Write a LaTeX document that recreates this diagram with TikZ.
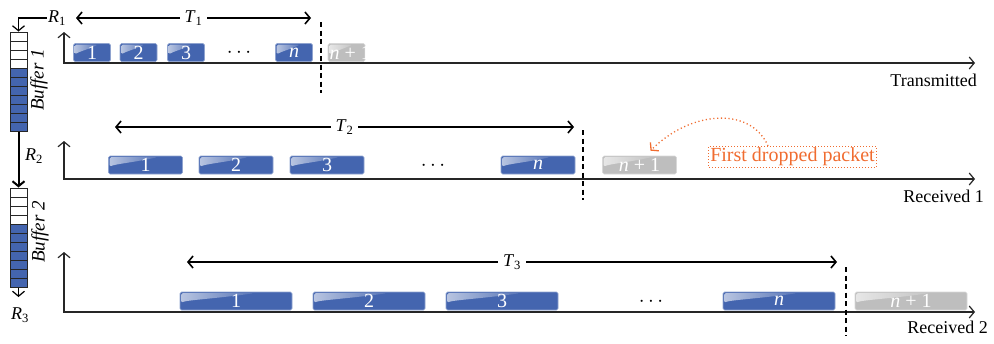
\documentclass[tikz,border=0pt]{standalone}
\usepackage{fontspec}
\setmainfont{Liberation Serif}
\usetikzlibrary{arrows.meta,calc}
\definecolor{pblue}{RGB}{68,101,175}
\definecolor{pgray}{RGB}{190,190,190}
\definecolor{dorange}{RGB}{240,108,48}
\newcommand\idx[2]{\textit{#1}\textsubscript{#2}}
\tikzset{
  chev/.tip={Straight Barb[length=5pt,width=12pt]},
  axisline/.style={line width=1.2pt, draw=black!85, {chev}-{chev}},
  tarrow/.style={line width=1.6pt, {chev}-{chev}},
  conn/.style={line width=1.2pt, -{chev}},
  cut/.style={line width=1.2pt, dash pattern=on 5pt off 3.5pt},
  pkt/.style={rectangle, rounded corners=1.5pt, fill=#1, draw=#1!60!white, line width=0.6pt,
    text=white, inner sep=0pt, minimum height=18pt, font=\fontsize{20}{22}\selectfont,
    path picture={
      \coordinate (gA) at ($(path picture bounding box.north west)+(1.2pt,-1.2pt)$);
      \coordinate (gB) at ($(path picture bounding box.north west)!0.66!(path picture bounding box.north east)+(0,-1.2pt)$);
      \coordinate (gC) at ($(path picture bounding box.north west)!0.6!(path picture bounding box.south west)+(1.2pt,0)$);
      \coordinate (gD) at ($(path picture bounding box.north west)!0.35!(path picture bounding box.south east)$);
      \coordinate (gE) at ($(path picture bounding box.north west)!0.45!(path picture bounding box.south west)+(6pt,0)$);
      \shade[left color=white!62!#1, right color=#1!90!white]
        (gA) -- (gB) .. controls (gD) and (gE) .. (gC) -- cycle;}},
  pkt/.default=pblue,
  cell/.style={draw=black!85, line width=0.8pt},
  lbl/.style={inner sep=1pt},
  ddots/.style={font=\fontsize{22}{24}\selectfont},
}
\begin{document}
\begin{tikzpicture}[x=1pt,y=-1pt,font=\fontsize{18}{21}\selectfont]
\useasboundingbox (0,0) rectangle (994,343);

% ---------- buffers ----------
\node[draw=black!85, line width=1pt, minimum width=17pt, minimum height=99pt, inner sep=0pt] (buf1) at (18.5,81.5) {};
\foreach \i in {0,...,10}{
  \ifnum\i<4 \def\cc{white}\else\def\cc{pblue}\fi
  \draw[cell, fill=\cc] (10,{32+9*\i}) rectangle (27,{41+9*\i});
}
\node[draw=black!85, line width=1pt, minimum width=17pt, minimum height=99pt, inner sep=0pt] (buf2) at (18.5,237.5) {};
\foreach \i in {0,...,10}{
  \ifnum\i<4 \def\cc{white}\else\def\cc{pblue}\fi
  \draw[cell, fill=\cc] (10,{188+9*\i}) rectangle (27,{197+9*\i});
}
\node[rotate=90, lbl, font=\fontsize{19}{21}\selectfont] (bl1) at (39,80) {\textit{Buffer 1}};
\node[rotate=90, lbl, font=\fontsize{19}{21}\selectfont] (bl2) at (40,232) {\textit{Buffer 2}};

\node[lbl] (R1) at (57,18) {\idx{R}{1}};
\node[lbl] (R2) at (34,156) {\idx{R}{2}};
\node[lbl] (R3) at (20,315) {\idx{R}{3}};
\coordinate (b2out) at (18.5,297);
\draw[conn] (R1.west) -| (buf1.north);
\draw[line width=2pt, -{chev}] (buf1.south) -- (buf2.north);
\draw[conn] (buf2.south) -- (b2out);

% ---------- axes ----------
\coordinate (y1) at (64,32);  \coordinate (o1) at (64,63);  \coordinate (x1) at (975,63);
\coordinate (y2) at (64,141); \coordinate (o2) at (64,179); \coordinate (x2) at (975,179);
\coordinate (y3) at (64,252); \coordinate (o3) at (64,312); \coordinate (x3) at (975,312);
\draw[axisline] (y1) -- (o1) -- (x1);
\draw[axisline] (y2) -- (o2) -- (x2);
\draw[axisline] (y3) -- (o3) -- (x3);
\node[anchor=east, lbl] (lt) at (978,80) {Transmitted};
\node[anchor=east, lbl] (lr1) at (985,196) {Received 1};
\node[anchor=east, lbl] (lr2) at (989,327) {Received 2};

% ---------- T arrows ----------
\coordinate (t1a) at (76,18);  \coordinate (t1b) at (311,18);
\coordinate (t2a) at (115,127); \coordinate (t2b) at (574,127);
\coordinate (t3a) at (187,262); \coordinate (t3b) at (837,262);
\draw[tarrow] (t1a) -- node[fill=white, inner sep=5pt] (T1) {\idx{T}{1}} (t1b);
\draw[tarrow] (t2a) -- node[fill=white, inner sep=5pt] (T2) {\idx{T}{2}} (t2b);
\draw[tarrow] (t3a) -- node[fill=white, inner sep=5pt] (T3) {\idx{T}{3}} (t3b);

% ---------- cut lines ----------
\coordinate (d1a) at (321,22);  \coordinate (d1b) at (321,93);
\coordinate (d2a) at (583,130); \coordinate (d2b) at (583,200);
\coordinate (d3a) at (846,267); \coordinate (d3b) at (846,336);
\draw[cut] (d1a) -- (d1b);
\draw[cut] (d2a) -- (d2b);
\draw[cut] (d3a) -- (d3b);

% ---------- packets row 1 ----------
\node[pkt, minimum width=37pt] (p11) at (92,52.5) {1};
\node[pkt, minimum width=37pt] (p12) at (138.5,52.5) {2};
\node[pkt, minimum width=37pt] (p13) at (186,52.5) {3};
\node[ddots] (dots1) at (239,53) {$\cdots$};
\node[pkt, minimum width=37pt] (p1n) at (294,52.5) {\textit{n}};
\node[pkt=pgray, minimum width=37pt] (p1g) at (346.5,52.5) {\makebox[0pt][l]{\hspace*{-17pt}\textit{n} + 1}};

% ---------- packets row 2 ----------
\node[pkt, minimum width=74pt] (p21) at (145.5,165) {1};
\node[pkt, minimum width=74pt] (p22) at (236,165) {2};
\node[pkt, minimum width=74pt] (p23) at (327,165) {3};
\node[ddots] (dots2) at (433,166) {$\cdots$};
\node[pkt, minimum width=74pt] (p2n) at (538,165) {\textit{n}};
\node[pkt=pgray, minimum width=74pt] (p2g) at (639.5,165) {\textit{n} + 1};

% ---------- packets row 3 ----------
\node[pkt, minimum width=112pt] (p31) at (236,301) {1};
\node[pkt, minimum width=112pt] (p32) at (369,301) {2};
\node[pkt, minimum width=112pt] (p33) at (502,301) {3};
\node[ddots] (dots3) at (651,302) {$\cdots$};
\node[pkt, minimum width=112pt] (p3n) at (779,301) {\textit{n}};
\node[pkt=pgray, minimum width=112pt] (p3g) at (911,301) {\textit{n} + 1};

% ---------- first dropped packet ----------
\node[draw=dorange, dash pattern=on 1pt off 2pt, line width=1pt, text=dorange, inner sep=1.5pt,
      font=\fontsize{20}{22}\selectfont] (fdp) at (792.5,157) {First dropped packet};
\draw[dorange, dash pattern=on 1.2pt off 2.6pt, line width=1.3pt, -{chev[dorange]}]
  ($(fdp.north west)!0.355!(fdp.north east)$) .. controls +(-18pt,40pt) and +(40pt,40pt) .. ($(p2g.north)+(11pt,5pt)$);
\end{tikzpicture}
\end{document}
